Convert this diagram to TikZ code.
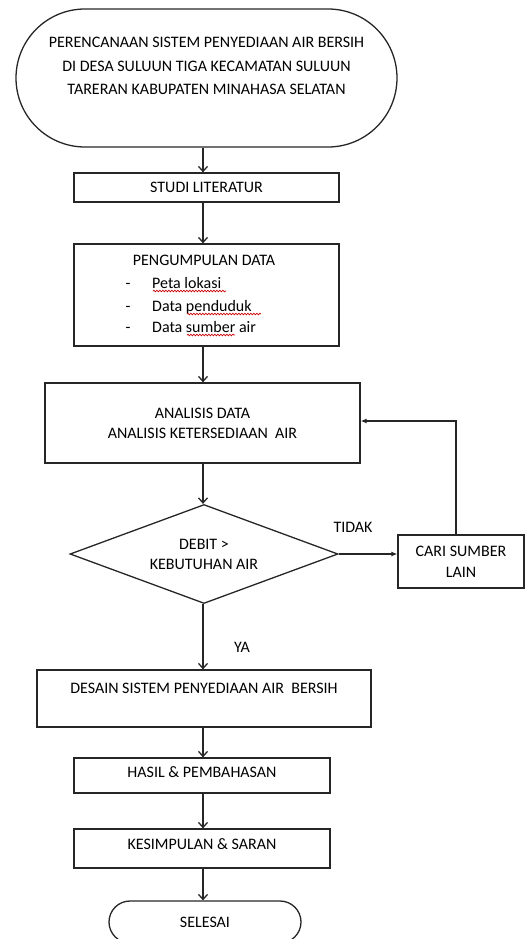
\documentclass[tikz,border=0pt]{standalone}
\usepackage{fontspec}
\setmainfont{Carlito}
\usetikzlibrary{arrows.meta,shapes.geometric,shapes.misc,decorations.pathmorphing}
\begin{document}
\begin{tikzpicture}[x=1pt,y=-1pt,
  every node/.style={font=\fontsize{16}{21}\selectfont, text=black},
  box/.style={draw=black!85, line width=1.3pt, rectangle, inner sep=0pt, align=center},
  term/.style={draw=black!85, line width=1.3pt, rounded rectangle, inner sep=0pt, align=center},
  dec/.style={draw=black!85, line width=1.3pt, diamond, inner sep=0pt, align=center},
  flow/.style={draw=black!85, line width=1.3pt, -{Straight Barb[length=5pt,width=9pt,line width=1.3pt]}},
  flowb/.style={draw=black!85, line width=1.3pt, -{Latex[length=6pt,width=5pt]}},
  lbl/.style={inner sep=0pt},
  spell/.style={draw=red!80!black, line width=0.7pt, decorate, decoration={snake, segment length=3pt, amplitude=0.8pt}}]
\useasboundingbox (0,0) rectangle (526,939);
\clip (0,0) rectangle (526,939);
\coordinate (ax) at (203,0);

\node[term, minimum width=381pt, minimum height=138pt, font=\fontsize{16}{23.5}\selectfont] (start) at (206.5,78)
  {PERENCANAAN SISTEM PENYEDIAAN AIR BERSIH\\DI DESA SULUUN TIGA KECAMATAN SULUUN\\TARERAN KABUPATEN MINAHASA SELATAN\\\mbox{}};
\node[box, minimum width=265pt, minimum height=29pt] (studi) at (206.5,187.5) {STUDI LITERATUR};
\node[box, minimum width=265pt, minimum height=102pt] (pd) at (206.5,295) {};
\node[lbl, anchor=base] (pdt) at (204,265) {PENGUMPULAN DATA};
\node[lbl, anchor=base] (d1) at (128,288) {-};
\node[lbl, anchor=base] (d2) at (128,311) {-};
\node[lbl, anchor=base] (d3) at (128,332) {-};
\node[lbl, anchor=base west] (p1) at (152,288) {Peta lokasi};
\node[lbl, anchor=base west] (p2) at (152,311) {Data penduduk};
\node[lbl, anchor=base west] (p3) at (152,332) {Data sumber air};
\draw[spell] (153,291) -- (226,291);
\draw[spell] (187,314) -- (261,314);
\draw[spell] (187,335) -- (235,335);

\node[box, minimum width=315pt, minimum height=80pt, font=\fontsize{16}{20}\selectfont] (ana) at (202.5,423)
  {ANALISIS DATA\\ANALISIS KETERSEDIAAN\ \ AIR};
\node[dec, minimum width=268pt, minimum height=99pt, aspect=2.7, font=\fontsize{16}{20}\selectfont] (dia) at (204,554)
  {DEBIT >\\KEBUTUHAN AIR};
\node[box, minimum width=126pt, minimum height=53pt] (cari) at (461,561.5) {CARI SUMBER\\LAIN};
\node[box, minimum width=334pt, minimum height=57pt, font=\fontsize{16}{20}\selectfont] (des) at (204,698.5)
  {DESAIN SISTEM PENYEDIAAN AIR\ \ BERSIH\\\mbox{}};
\node[box, minimum width=256pt, minimum height=35pt] (hasil) at (202,775.5) {HASIL \& PEMBAHASAN\\[-14pt]\mbox{}};
\node[box, minimum width=256pt, minimum height=39pt] (kes) at (202,848.5) {KESIMPULAN \& SARAN\\[-12pt]\mbox{}};
\node[term, minimum width=192pt, minimum height=42pt] (end) at (205,922) {SELESAI};

\node[lbl] (tidak) at (353,527) {TIDAK};
\node[lbl] (ya) at (242,647) {YA};

\draw[flow] (start.south -| ax) -- (studi.north -| ax);
\draw[flow] (studi.south -| ax) -- (pd.north -| ax);
\draw[flow] (pd.south -| ax) -- (ana.north -| ax);
\draw[flow] (ana.south -| ax) -- (dia.north -| ax);
\draw[flow] (dia.south -| ax) -- (des.north -| ax);
\draw[flow] (des.south -| ax) -- (hasil.north -| ax);
\draw[flow] (hasil.south -| ax) -- (kes.north -| ax);
\draw[flow] (kes.south -| ax) -- (end.north -| ax);
\draw[flowb] (dia.east) -- (dia.east -| cari.west);
\coordinate (lp) at (456,421);
\draw[flowb] (cari.north -| lp) |- (ana.east |- lp);
\end{tikzpicture}
\end{document}
